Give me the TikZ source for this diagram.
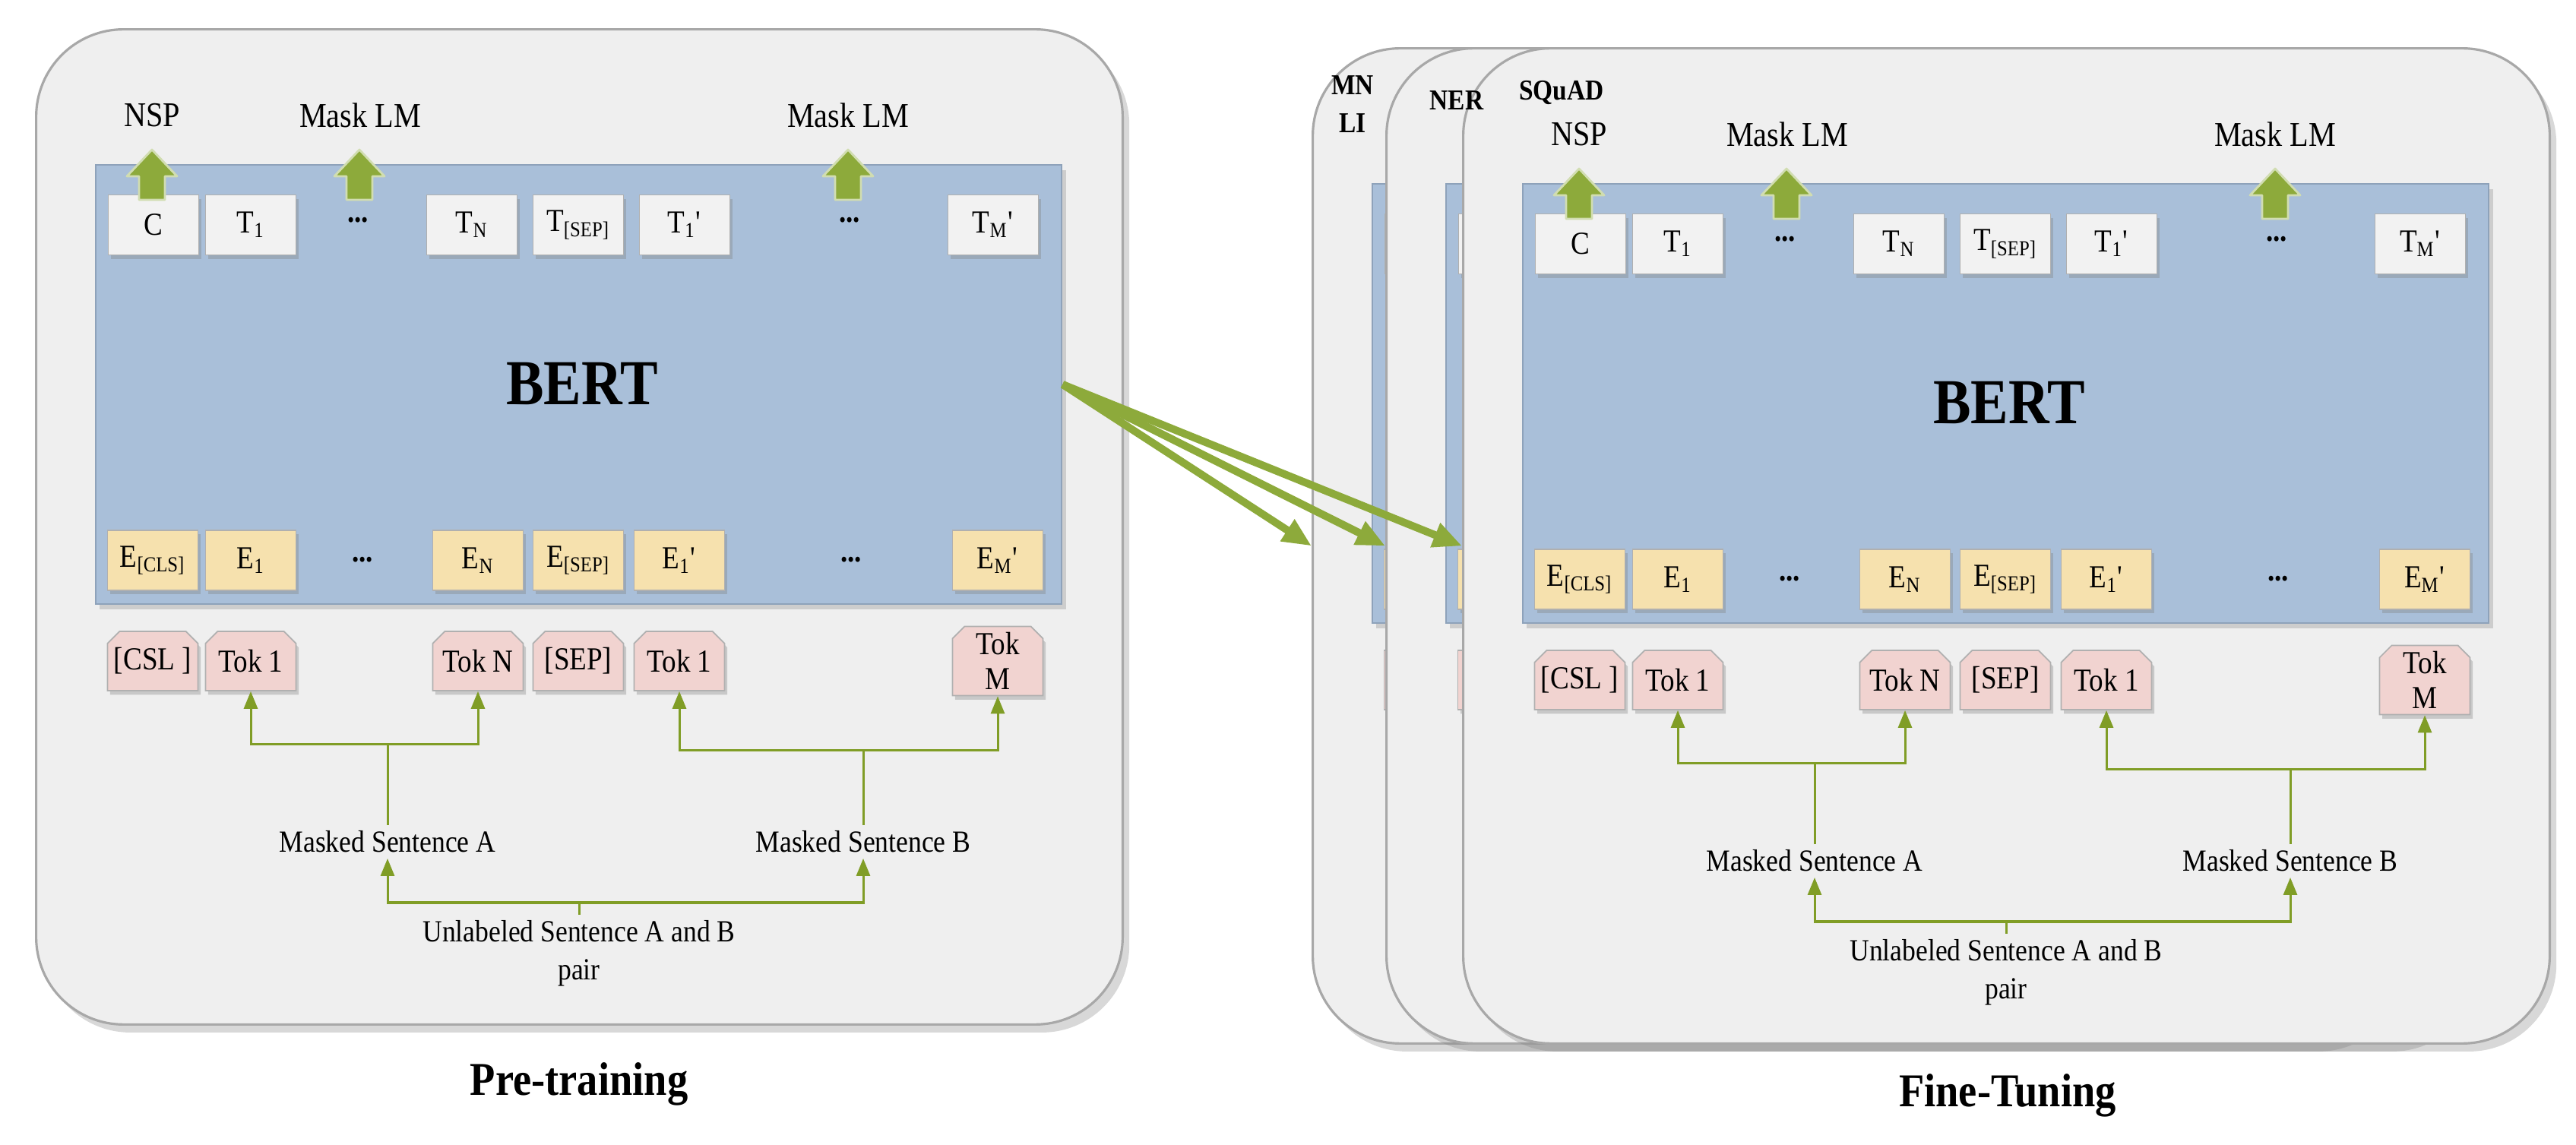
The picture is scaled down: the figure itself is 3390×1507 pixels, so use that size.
\documentclass[tikz,border=0pt]{standalone}
\usepackage{fontspec}
\setmainfont{Liberation Serif}[FakeStretch=0.88]
\usetikzlibrary{shapes.misc,shadows,arrows.meta}

\definecolor{panelfill}{HTML}{EFEFEF}
\definecolor{panelline}{HTML}{A8A8A8}
\definecolor{bertblue}{HTML}{A9BFD9}
\definecolor{bertline}{HTML}{8EA2BA}
\definecolor{tcolor}{HTML}{F2F2F2}
\definecolor{ecolor}{HTML}{F6E1AE}
\definecolor{kcolor}{HTML}{F1D3D0}
\definecolor{boxline}{HTML}{B0B0B0}
\definecolor{agreen}{HTML}{8DAA3B}
\definecolor{lgreen}{HTML}{809D26}

\newcommand\bLbl{\fontsize{13pt}{15pt}\selectfont}
\newcommand\bBox{\fontsize{12pt}{13pt}\selectfont}
\newcommand\bSent{\fontsize{11.5pt}{14.2pt}\selectfont}
\newcommand\bBert{\fontsize{24pt}{28pt}\selectfont\bfseries}
\newcommand\bTitle{\fontsize{17.6pt}{20pt}\selectfont\bfseries}
\newcommand\bTask{\fontsize{10.8pt}{14.2pt}\selectfont\bfseries}
\newcommand\bPr{\textquotesingle}

\tikzset{
  panel/.style={rectangle, rounded corners=1.15cm, draw=panelline, line width=0.9pt,
    fill=panelfill, minimum width=14.29cm, minimum height=13.09cm, inner sep=0pt,
    drop shadow={shadow xshift=2.5pt, shadow yshift=-3pt, opacity=0.3}},
  bertbox/.style={rectangle, draw=bertline, line width=0.6pt, fill=bertblue,
    minimum width=12.71cm, minimum height=5.78cm, inner sep=0pt,
    drop shadow={shadow xshift=1.5pt, shadow yshift=-2pt, opacity=0.3}},
  cell/.style={rectangle, draw=boxline, line width=0.5pt, minimum width=1.19cm,
    minimum height=0.79cm, inner sep=0pt, font=\bBox,
    drop shadow={shadow xshift=1pt, shadow yshift=-1.5pt, opacity=0.35}},
  tcell/.style={cell, fill=tcolor},
  ecell/.style={cell, fill=ecolor},
  kcell/.style={cell, fill=kcolor, chamfered rectangle,
    chamfered rectangle corners={north west,north east},
    chamfered rectangle xsep=0.08cm, chamfered rectangle ysep=0.08cm,
    minimum height=0.78cm, align=center},
  dotlbl/.style={font=\bBox\bfseries, inner sep=0pt, anchor=base},
  lbl/.style={font=\bLbl, inner sep=1pt},
  sent/.style={font=\bSent, inner sep=2pt, align=center},
  bertlbl/.style={font=\bBert, inner sep=0pt},
  ttl/.style={font=\bTitle, inner sep=0pt},
  task/.style={font=\bTask, inner sep=0pt, align=center},
  blockarr/.style={fill=agreen, draw=agreen!40!white, line width=0.8pt, line join=round},
  conn/.style={draw=lgreen, line width=0.03cm, -{Triangle[length=0.23cm,width=0.18cm]}},
  bigarr/.style={draw=agreen, line width=0.1cm,
    -{Triangle[length=0.38cm,width=0.32cm]}},
}

\newcommand\upblock[1]{%
  \draw[blockarr] (#1-17,263) -- (#1-17,232) -- (#1-33,232) -- (#1,197)
    -- (#1+33,232) -- (#1+17,232) -- (#1+17,263) -- cycle;}

\newcommand\bertpanel[1]{%
  \node[panel] (#1p) at (762.5,693.5) {};
  \node[bertbox] (#1b) at (761.5,506) {};
  \node[bertlbl] (#1bert) at (766,505) {BERT};
  % output row
  \node[tcell] (#1t1) at (202,296) {C};
  \node[tcell] (#1t2) at (330,296) {T\textsubscript{1}};
  \node[dotlbl] (#1td1) at (471,293) {...};
  \node[tcell] (#1t3) at (621,296) {T\textsubscript{N}};
  \node[tcell] (#1t4) at (761,296) {T\textsubscript{[SEP]}};
  \node[tcell] (#1t5) at (901,296) {T\textsubscript{1}\bPr};
  \node[dotlbl] (#1td2) at (1118,293) {...};
  \node[tcell] (#1t6) at (1307,296) {T\textsubscript{M}\bPr};
  % embedding row
  \node[ecell] (#1e1) at (201,737.5) {E\textsubscript{[CLS]}};
  \node[ecell] (#1e2) at (330,737.5) {E\textsubscript{1}};
  \node[dotlbl] (#1ed1) at (477,740) {...};
  \node[ecell] (#1e3) at (629,737.5) {E\textsubscript{N}};
  \node[ecell] (#1e4) at (761,737.5) {E\textsubscript{[SEP]}};
  \node[ecell] (#1e5) at (894,737.5) {E\textsubscript{1}\bPr};
  \node[dotlbl] (#1ed2) at (1120,740) {...};
  \node[ecell] (#1e6) at (1313,737.5) {E\textsubscript{M}\bPr};
  % token row
  \node[kcell] (#1k1) at (201,870) {[CSL ]};
  \node[kcell] (#1k2) at (330,870) {Tok 1};
  \node[kcell] (#1k3) at (629,870) {Tok N};
  \node[kcell] (#1k4) at (761,870) {[SEP]};
  \node[kcell] (#1k5) at (894,870) {Tok 1};
  \node[kcell] (#1k6) at (1313,870) {Tok\\M};
  % task arrows and labels
  \upblock{200}
  \upblock{473}
  \upblock{1116}
  \node[lbl] (#1nsp) at (200,152) {NSP};
  \node[lbl] (#1mlm1) at (474,152) {Mask LM};
  \node[lbl] (#1mlm2) at (1116,152) {Mask LM};
  % sentences
  \node[sent] (#1msa) at (510,1108) {Masked Sentence A};
  \node[sent] (#1msb) at (1136,1108) {Masked Sentence B};
  \node[sent] (#1unl) at (762,1255) {Unlabeled Sentence A and B\\pair};
  \coordinate (#1ja) at (510,980);
  \coordinate (#1jb) at (1136,988);
  \coordinate (#1jc) at (762,1188);
  \draw[conn] (#1msa.north) -- (#1ja) -| (#1k2.south);
  \draw[conn] (#1ja) -| (#1k3.south);
  \draw[conn] (#1msb.north) -- (#1jb) -| (#1k5.south);
  \draw[conn] (#1jb) -| (#1k6.south);
  \draw[conn] (#1unl.north) -- (#1jc) -| (#1msa.south);
  \draw[conn] (#1jc) -| (#1msb.south);
}

\newcommand\backpanel[1]{%
  \node[panel] (#1p) at (762.5,693.5) {};
  \node[bertbox] (#1b) at (761.5,506) {};
  \node[tcell] (#1t1) at (202,296) {};
  \node[ecell] (#1e1) at (201,737.5) {};
  \node[kcell] (#1k1) at (201,870) {};
}

\begin{document}
\begin{tikzpicture}[x=0.01cm, y=-0.01cm]
  \fill[white] (0,0) rectangle (3390,1507);
  \useasboundingbox (0,0) rectangle (3390,1507);

  % pre-training panel
  \bertpanel{L}
  \node[ttl] (pretrain) at (762,1427) {Pre-training};

  % fine-tuning panels (back to front)
  \begin{scope}[shift={(1680,25)}]
    \backpanel{M}
  \end{scope}
  \begin{scope}[shift={(1777,25)}]
    \backpanel{N}
  \end{scope}
  \begin{scope}[shift={(1878,25)}]
    \bertpanel{S}
  \end{scope}
  \node[ttl] (finetune) at (2642,1442) {Fine-Tuning};

  \node[task] (mnli) at (1780,137) {MN\\LI};
  \node[task] (ner) at (1917,132) {NER};
  \node[task] (squad) at (2055,122) {SQuAD};

  % transfer arrows
  \draw[bigarr] (Lb.east) -- (Mp.west);
  \draw[bigarr] (Lb.east) -- (Np.west);
  \draw[bigarr] (Lb.east) -- (Sp.west);
\end{tikzpicture}
\end{document}
